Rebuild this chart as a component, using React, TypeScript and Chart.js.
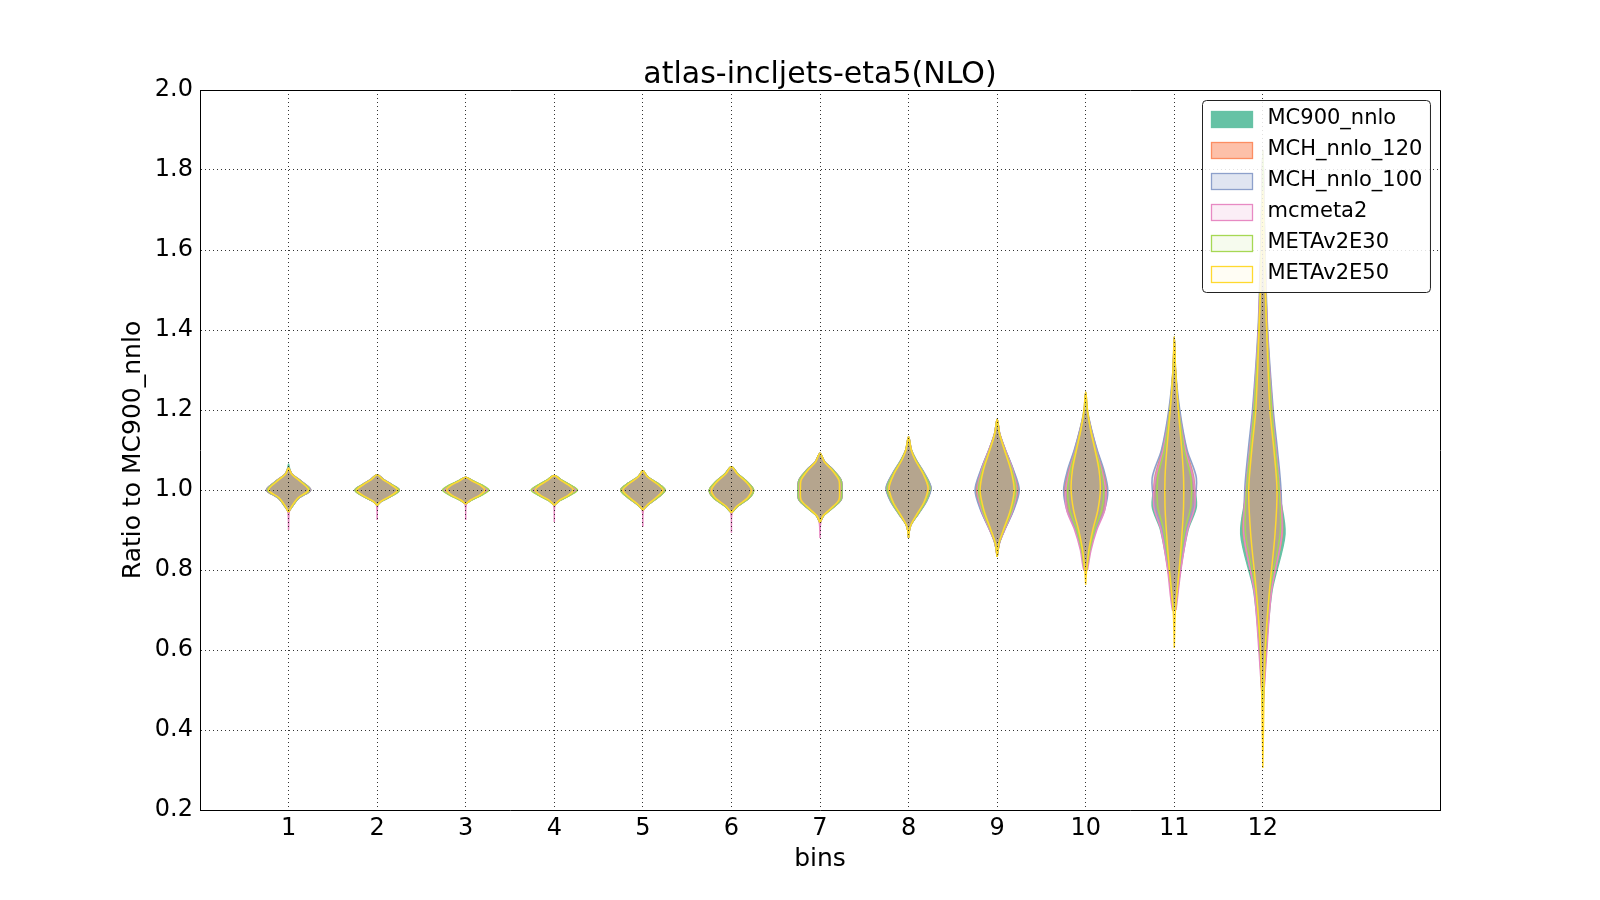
import React, { useEffect, useRef } from "react";
import { Chart, registerables } from "chart.js";

Chart.register(...registerables);

const TITLE = "atlas-incljets-eta5(NLO)";
const X_LABEL = "bins";
const Y_LABEL = "Ratio to MC900_nnlo";
const BINS = [1, 2, 3, 4, 5, 6, 7, 8, 9, 10, 11, 12];
const Y_TICKS = [0.2, 0.4, 0.6, 0.8, 1.0, 1.2, 1.4, 1.6, 1.8, 2.0];

const SERIES_NAMES = ["MC900_nnlo", "MCH_nnlo_120", "MCH_nnlo_100", "mcmeta2", "METAv2E30", "METAv2E50"];
const EDGE_COLORS = ["#66c2a5", "#fc8d62", "#8da0cb", "#e78ac3", "#a6d854", "#ffd92f"];
const FILL_COLORS = [
  "rgba(102,194,165,1)",
  "rgba(252,141,98,0.55)",
  "rgba(141,160,203,0.27)",
  "rgba(231,138,195,0.15)",
  "rgba(166,216,84,0.1)",
  "rgba(255,217,47,0.05)",
];

// y levels (ratio values) at which the violin widths are read, one list per bin
const LEVELS = [
  [0.9, 0.945, 0.96, 0.98, 1.0, 1.02, 1.04, 1.055, 1.065],
  [0.925, 0.962, 0.972, 0.987, 1.0, 1.013, 1.026, 1.038],
  [0.925, 0.965, 0.975, 0.988, 1.0, 1.012, 1.022, 1.032],
  [0.92, 0.962, 0.974, 0.988, 1.0, 1.012, 1.024, 1.036],
  [0.908, 0.95, 0.965, 0.983, 1.0, 1.017, 1.033, 1.048],
  [0.893, 0.943, 0.96, 0.98, 1.0, 1.02, 1.04, 1.058],
  [0.88, 0.918, 0.935, 0.952, 0.975, 1.0, 1.025, 1.05, 1.07, 1.092],
  [0.88, 0.9, 0.915, 0.94, 0.97, 1.005, 1.04, 1.075, 1.1, 1.133],
  [0.833, 0.867, 0.9, 0.95, 1.0, 1.05, 1.1, 1.14, 1.177],
  [0.763, 0.8, 0.85, 0.9, 0.95, 1.0, 1.05, 1.1, 1.15, 1.2, 1.245],
  [0.605, 0.7, 0.8, 0.9, 0.96, 1.03, 1.1, 1.2, 1.3, 1.383],
  [0.305, 0.45, 0.6, 0.75, 0.89, 1.0, 1.1, 1.2, 1.4, 1.6, 1.75, 1.85],
];

// relative density (1 = widest) at each level; null = outside the series' range
const W_MC900 = [
  [null, 0, 0.18, 0.47, 1.0, 0.62, 0.15, 0.04, 0],
  [null, 0, 0.2, 0.72, 1.0, 0.68, 0.3, 0],
  [null, 0, 0.25, 0.72, 1.0, 0.72, 0.35, 0],
  [null, 0, 0.25, 0.72, 1.0, 0.72, 0.35, 0],
  [null, 0, 0.28, 0.72, 1.0, 0.66, 0.22, 0],
  [null, 0, 0.3, 0.8, 1.0, 0.72, 0.3, 0],
  [null, 0, 0.15, 0.5, 0.95, 1.0, 0.95, 0.6, 0.22, 0],
  [0, 0.04, 0.13, 0.43, 0.78, 1.0, 0.72, 0.34, 0.13, 0],
  [0, 0.1, 0.33, 0.73, 0.95, 0.72, 0.37, 0.12, 0],
  [null, 0, 0.2, 0.43, 0.8, 0.95, 0.76, 0.48, 0.25, 0, null],
  [null, 0.04, 0.28, 0.62, 1.0, 0.82, 0.5, 0.2, 0.05, 0],
  [null, 0, 0.15, 0.42, 1.0, 0.72, 0.55, 0.4, 0.18, 0.08, 0.04, 0],
];
const W_MCH120 = [
  [null, 0, 0.18, 0.47, 1.0, 0.62, 0.15, 0, null],
  [null, 0, 0.2, 0.72, 1.0, 0.68, 0.3, 0],
  [null, 0, 0.25, 0.72, 1.0, 0.72, 0.35, 0],
  [null, 0, 0.25, 0.72, 1.0, 0.72, 0.35, 0],
  [null, 0, 0.28, 0.72, 1.0, 0.66, 0.22, 0],
  [null, 0, 0.3, 0.8, 1.0, 0.72, 0.3, 0],
  [null, 0, 0.15, 0.5, 0.95, 1.0, 0.95, 0.6, 0.22, 0],
  [0, 0.04, 0.13, 0.43, 0.78, 1.0, 0.72, 0.34, 0.13, 0],
  [0, 0.1, 0.33, 0.72, 0.95, 0.72, 0.37, 0.12, 0],
  [null, 0, 0.2, 0.45, 0.82, 0.95, 0.78, 0.5, 0.26, 0, null],
  [null, 0.04, 0.27, 0.58, 0.9, 0.88, 0.55, 0.22, 0.05, 0],
  [null, 0, 0.15, 0.38, 0.88, 0.78, 0.6, 0.44, 0.2, 0.09, 0.04, 0],
];
const W_MCH100 = [
  [null, 0, 0.18, 0.47, 1.0, 0.62, 0.15, 0, null],
  [null, 0, 0.2, 0.72, 1.0, 0.68, 0.3, 0],
  [null, 0, 0.25, 0.72, 1.0, 0.72, 0.35, 0],
  [null, 0, 0.25, 0.72, 1.0, 0.72, 0.35, 0],
  [null, 0, 0.28, 0.72, 1.0, 0.66, 0.22, 0],
  [null, 0, 0.3, 0.8, 1.0, 0.72, 0.3, 0],
  [null, 0, 0.15, 0.5, 0.95, 1.0, 0.95, 0.6, 0.22, 0],
  [0, 0.04, 0.13, 0.44, 0.8, 1.02, 0.74, 0.35, 0.13, 0],
  [0, 0.1, 0.34, 0.75, 1.0, 0.74, 0.38, 0.12, 0],
  [null, 0.04, 0.2, 0.45, 0.85, 1.0, 0.82, 0.52, 0.27, 0.08, 0],
  [null, 0.03, 0.25, 0.55, 0.88, 1.0, 0.58, 0.25, 0.06, 0],
  [null, 0, 0.13, 0.34, 0.82, 0.82, 0.66, 0.47, 0.22, 0.1, 0.04, 0],
];
const W_MCMETA2 = [
  [0, 0.03, 0.16, 0.45, 0.96, 0.6, 0.14, 0, null],
  [0, 0.03, 0.2, 0.7, 0.97, 0.66, 0.28, 0],
  [0, 0.03, 0.25, 0.7, 0.97, 0.7, 0.33, 0],
  [0, 0.03, 0.25, 0.7, 0.97, 0.7, 0.33, 0],
  [0, 0.03, 0.27, 0.7, 0.96, 0.64, 0.2, 0],
  [0, 0.03, 0.28, 0.78, 0.96, 0.7, 0.28, 0],
  [0, 0.03, 0.15, 0.48, 0.9, 0.93, 0.88, 0.55, 0.2, 0],
  [0, 0.04, 0.13, 0.4, 0.74, 0.92, 0.7, 0.32, 0.12, 0],
  [0, 0.1, 0.33, 0.7, 0.88, 0.7, 0.37, 0.12, 0],
  [null, 0.08, 0.24, 0.5, 0.86, 0.9, 0.72, 0.46, 0.24, 0.06, 0],
  [null, 0.08, 0.3, 0.6, 0.93, 0.85, 0.5, 0.2, 0.05, 0],
  [null, 0, 0.18, 0.4, 0.86, 0.76, 0.58, 0.42, 0.2, 0.09, 0.04, 0],
];
const W_E30 = [
  [null, 0, 0.17, 0.45, 0.95, 0.6, 0.14, 0, null],
  [null, 0, 0.2, 0.72, 1.0, 0.68, 0.28, 0],
  [null, 0, 0.27, 0.75, 1.05, 0.75, 0.36, 0],
  [null, 0, 0.27, 0.75, 1.05, 0.75, 0.36, 0],
  [null, 0, 0.28, 0.72, 1.0, 0.66, 0.22, 0],
  [null, 0, 0.3, 0.8, 1.0, 0.72, 0.3, 0],
  [null, 0, 0.15, 0.5, 0.93, 0.98, 0.93, 0.58, 0.2, 0],
  [0, 0.04, 0.13, 0.42, 0.76, 0.97, 0.7, 0.33, 0.12, 0],
  [0, 0.09, 0.3, 0.66, 0.85, 0.66, 0.34, 0.11, 0],
  [null, 0.04, 0.18, 0.4, 0.72, 0.82, 0.68, 0.44, 0.23, 0.06, 0],
  [null, 0.04, 0.22, 0.48, 0.75, 0.75, 0.45, 0.2, 0.05, 0],
  [null, 0, 0.12, 0.32, 0.78, 0.74, 0.56, 0.4, 0.18, 0.08, 0.03, 0],
];
const W_E50 = [
  [null, 0, 0.15, 0.42, 0.9, 0.56, 0.13, 0, null],
  [null, 0, 0.18, 0.66, 0.92, 0.63, 0.26, 0],
  [null, 0, 0.22, 0.65, 0.86, 0.65, 0.3, 0],
  [null, 0, 0.22, 0.65, 0.86, 0.65, 0.3, 0],
  [null, 0, 0.24, 0.64, 0.9, 0.6, 0.2, 0],
  [null, 0, 0.25, 0.72, 0.9, 0.66, 0.26, 0],
  [null, 0, 0.13, 0.45, 0.85, 0.88, 0.85, 0.54, 0.2, 0],
  [0, 0.04, 0.12, 0.38, 0.7, 0.88, 0.66, 0.3, 0.12, 0],
  [0, 0.08, 0.28, 0.6, 0.77, 0.62, 0.33, 0.11, 0],
  [0, 0.04, 0.14, 0.32, 0.55, 0.66, 0.6, 0.42, 0.22, 0.08, 0],
  [0, 0.05, 0.22, 0.36, 0.42, 0.42, 0.34, 0.18, 0.06, 0],
  [0, 0.04, 0.1, 0.3, 0.55, 0.64, 0.5, 0.32, 0.17, 0.05, 0, null],
];

const SERIES_WIDTHS = [W_MC900, W_MCH120, W_MCH100, W_MCMETA2, W_E30, W_E50];
const VIOLIN_HALF_WIDTH = 0.25;
const FONT = "DejaVu Sans";

function buildDatasets() {
  const datasets: any[] = [];
  SERIES_WIDTHS.forEach((widths, s) => {
    BINS.forEach((bin, b) => {
      const lv = LEVELS[b];
      const w = widths[b];
      const idx: number[] = [];
      w.forEach((v, i) => {
        if (v !== null) idx.push(i);
      });
      const right = idx.map((i) => ({ x: bin + (w[i] as number) * VIOLIN_HALF_WIDTH, y: lv[i] }));
      const left = idx
        .slice()
        .reverse()
        .filter((i) => (w[i] as number) > 0)
        .map((i) => ({ x: bin - (w[i] as number) * VIOLIN_HALF_WIDTH, y: lv[i] }));
      datasets.push({
        label: SERIES_NAMES[s],
        seriesIndex: s,
        data: [...right, ...left, right[0]],
        showLine: true,
        fill: "shape",
        backgroundColor: FILL_COLORS[s],
        borderColor: EDGE_COLORS[s],
        borderWidth: 1.5,
        pointRadius: 0,
        pointHoverRadius: 0,
        tension: 0.3,
        order: SERIES_NAMES.length - s,
      });
    });
  });
  return datasets;
}

const framePlugin = {
  id: "frameTitleLegend",
  afterDraw(chart: any) {
    const { ctx, chartArea } = chart;
    ctx.save();
    // top and right spines
    ctx.strokeStyle = "#000";
    ctx.lineWidth = 1;
    ctx.setLineDash([]);
    ctx.beginPath();
    ctx.moveTo(Math.round(chartArea.left) + 0.5, Math.round(chartArea.top) + 0.5);
    ctx.lineTo(Math.round(chartArea.right) + 0.5, Math.round(chartArea.top) + 0.5);
    ctx.lineTo(Math.round(chartArea.right) + 0.5, Math.round(chartArea.bottom) + 0.5);
    ctx.stroke();

    // title centred over the axes
    ctx.fillStyle = "#000";
    ctx.font = `30px '${FONT}'`;
    ctx.textAlign = "center";
    ctx.textBaseline = "middle";
    ctx.fillText(TITLE, (chartArea.left + chartArea.right) / 2, chartArea.top - 15);

    // legend box (upper right inside axes)
    ctx.font = `21px '${FONT}'`;
    let maxW = 0;
    SERIES_NAMES.forEach((n) => {
      maxW = Math.max(maxW, ctx.measureText(n).width);
    });
    const rowH = 31;
    const boxW = 65 + maxW + 8;
    const boxH = 18 + rowH * (SERIES_NAMES.length - 1) + 19;
    const bx = Math.round(chartArea.right - 10 - boxW) + 0.5;
    const by = Math.round(chartArea.top + 10) + 0.5;
    const r = 4;
    ctx.beginPath();
    ctx.moveTo(bx + r, by);
    ctx.lineTo(bx + boxW - r, by);
    ctx.arcTo(bx + boxW, by, bx + boxW, by + r, r);
    ctx.lineTo(bx + boxW, by + boxH - r);
    ctx.arcTo(bx + boxW, by + boxH, bx + boxW - r, by + boxH, r);
    ctx.lineTo(bx + r, by + boxH);
    ctx.arcTo(bx, by + boxH, bx, by + boxH - r, r);
    ctx.lineTo(bx, by + r);
    ctx.arcTo(bx, by, bx + r, by, r);
    ctx.closePath();
    ctx.fillStyle = "rgba(255,255,255,0.85)";
    ctx.fill();
    ctx.strokeStyle = "#222";
    ctx.lineWidth = 1;
    ctx.stroke();

    SERIES_NAMES.forEach((name, i) => {
      const cy = by + 18 + i * rowH;
      const px = bx + 9;
      const py = Math.round(cy - 8) + 0.5;
      ctx.fillStyle = "#fff";
      ctx.fillRect(px, py, 41, 16);
      ctx.fillStyle = FILL_COLORS[i];
      ctx.fillRect(px, py, 41, 16);
      ctx.strokeStyle = EDGE_COLORS[i];
      ctx.lineWidth = 1.3;
      ctx.strokeRect(px, py, 41, 16);
      ctx.fillStyle = "#000";
      ctx.textAlign = "left";
      ctx.textBaseline = "middle";
      ctx.fillText(name, bx + 65, cy);
    });
    ctx.restore();
  },
};

export default function App() {
  const ref = useRef<HTMLCanvasElement | null>(null);

  useEffect(() => {
    document.body.style.margin = "0";
    const canvas = ref.current;
    if (!canvas) return;
    const chart = new Chart(canvas, {
      type: "scatter",
      data: { datasets: buildDatasets() },
      plugins: [framePlugin],
      options: {
        animation: false,
        responsive: false,
        devicePixelRatio: 1,
        layout: { padding: { left: 0, right: 160, top: 90, bottom: 0 } },
        plugins: {
          legend: { display: false },
          tooltip: { enabled: false },
          title: { display: false },
        },
        scales: {
          x: {
            type: "linear",
            min: 0,
            max: 14,
            afterBuildTicks: (scale: any) => {
              scale.ticks = BINS.map((v) => ({ value: v }));
            },
            afterFit: (scale: any) => {
              scale.height = 90;
            },
            ticks: {
              color: "#000",
              font: { family: FONT, size: 24 },
              padding: 4,
              maxRotation: 0,
              callback: (v: any) => String(v),
            },
            grid: { color: "rgba(0,0,0,0.8)", lineWidth: 1, drawTicks: false, z: 1 },
            border: { display: true, color: "#000", width: 1, dash: [1, 3], z: 2 },
            title: {
              display: true,
              text: X_LABEL,
              color: "#000",
              font: { family: FONT, size: 25 },
              padding: { top: 0, bottom: 26 },
            },
          },
          y: {
            type: "linear",
            min: 0.2,
            max: 2.0,
            afterBuildTicks: (scale: any) => {
              scale.ticks = Y_TICKS.map((v) => ({ value: v }));
            },
            afterFit: (scale: any) => {
              scale.width = 200;
            },
            ticks: {
              color: "#000",
              font: { family: FONT, size: 24 },
              padding: 7,
              callback: (v: any) => Number(v).toFixed(1),
            },
            grid: { color: "rgba(0,0,0,0.8)", lineWidth: 1, drawTicks: false, z: 1 },
            border: { display: true, color: "#000", width: 1, dash: [1, 3], z: 2 },
            title: {
              display: true,
              text: Y_LABEL,
              color: "#000",
              font: { family: FONT, size: 25 },
              padding: { top: 118, bottom: 0 },
            },
          },
        },
      } as any,
    });
    return () => chart.destroy();
  }, []);

  return (
    <div style={{ width: 1600, height: 900 }}>
      <canvas ref={ref} width={1600} height={900} style={{ display: "block" }} />
    </div>
  );
}
